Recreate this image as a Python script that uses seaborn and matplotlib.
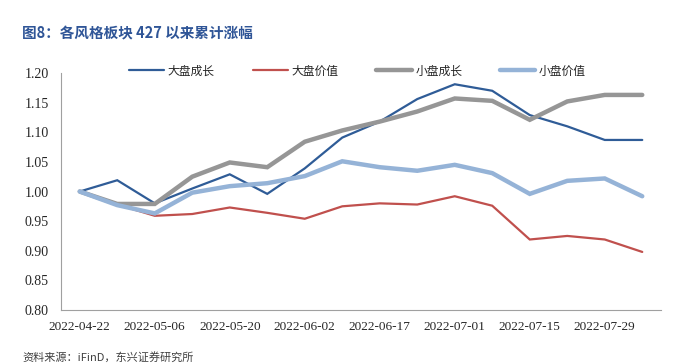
import numpy as np
import pandas as pd
import matplotlib
matplotlib.use("Agg")
import matplotlib.pyplot as plt
import seaborn as sns

dates = ["2022-04-22", "2022-04-29", "2022-05-06", "2022-05-13", "2022-05-20", "2022-05-27",
         "2022-06-02", "2022-06-10", "2022-06-17", "2022-06-24", "2022-07-01", "2022-07-08",
         "2022-07-15", "2022-07-22", "2022-07-29", "2022-08-05"]
large_growth = [1.000, 1.019, 0.980, 1.005, 1.029, 0.996, 1.039, 1.091, 1.118, 1.156, 1.181, 1.170,
                1.129, 1.110, 1.087, 1.087]
large_value = [1.000, 0.978, 0.959, 0.962, 0.973, 0.964, 0.954, 0.975, 0.980, 0.978, 0.992, 0.976,
               0.919, 0.925, 0.919, 0.898]
small_growth = [1.000, 0.979, 0.979, 1.025, 1.049, 1.041, 1.084, 1.103, 1.118, 1.135, 1.157, 1.153,
                1.121, 1.152, 1.163, 1.163]
small_value = [1.000, 0.977, 0.963, 0.998, 1.009, 1.014, 1.026, 1.051, 1.041, 1.035, 1.045, 1.031,
               0.996, 1.018, 1.022, 0.992]
series_names = ["大盘成长", "大盘价值", "小盘成长", "小盘价值"]
colors = ["#2F5C97", "#C0504D", "#969696", "#95B3D7"]
widths = [1.6, 1.6, 3.2, 3.2]

sns.set_theme(style="white")
plt.rcParams['font.family'] = ['Noto Sans CJK SC', 'DejaVu Sans']
plt.rcParams['axes.unicode_minus'] = False

frames = []
for name, vals in zip(series_names, [large_growth, large_value, small_growth, small_value]):
    frames.append(pd.DataFrame({"idx": np.arange(len(dates)), "date": dates, "value": vals, "series": name}))
df = pd.concat(frames, ignore_index=True)

fig = plt.figure(figsize=(6.87, 3.64), dpi=100)
ax = fig.add_axes([61/687, 1-310/364, 600/687, 237/364])

sns.lineplot(data=df, x="idx", y="value", hue="series", hue_order=series_names,
             palette=dict(zip(series_names, colors)), ax=ax, legend=False, estimator=None)
for line, w in zip(ax.get_lines(), widths):
    line.set_linewidth(w)
    line.set_solid_joinstyle("miter")

n = len(dates)
ax.set_xlim(-0.5, n - 0.5)
ax.set_ylim(0.80, 1.20)
ax.set_yticks(np.arange(0.80, 1.2001, 0.05))
ax.set_yticklabels([f"{v:.2f}" for v in np.arange(0.80, 1.2001, 0.05)],
                   fontfamily="Liberation Serif", fontsize=10)
major = list(range(0, n, 2))
ax.set_xticks(major)
ax.set_xticklabels([dates[i] for i in major], fontfamily="Liberation Serif", fontsize=9.5)
ax.set_xticks([i - 0.5 for i in range(0, n + 1, 2)], minor=True)
ax.tick_params(axis="x", which="major", length=0, pad=8)
ax.tick_params(axis="x", which="minor", length=3, direction="in", color="#A0A0A0", width=0.8)
ax.tick_params(axis="y", length=0, pad=9)
ax.set_xlabel("")
ax.set_ylabel("")
for s in ["top", "right"]:
    ax.spines[s].set_visible(False)
for s in ["left", "bottom"]:
    ax.spines[s].set_color("#A0A0A0")
    ax.spines[s].set_linewidth(0.8)

from matplotlib.lines import Line2D
handles = [Line2D([0], [0], color=c, lw=w) for c, w in zip(colors, widths)]
leg = ax.legend(handles, series_names, loc="center", bbox_to_anchor=(0.494, 1.008), ncol=4,
                frameon=False, fontsize=8.5, handlelength=3.0, handletextpad=0.3,
                columnspacing=3.2)

fig.text(22/687, 1-33/364, "图8：各风格板块 427 以来累计涨幅", fontsize=10.5, fontweight="bold",
         color="#2F5597", va="center", ha="left")
fig.text(22/687, 1-357/364, "资料来源：iFinD，东兴证券研究所", fontsize=8, style="italic",
         color="#404040", va="center", ha="left")

fig.savefig("out.png", dpi=100)
